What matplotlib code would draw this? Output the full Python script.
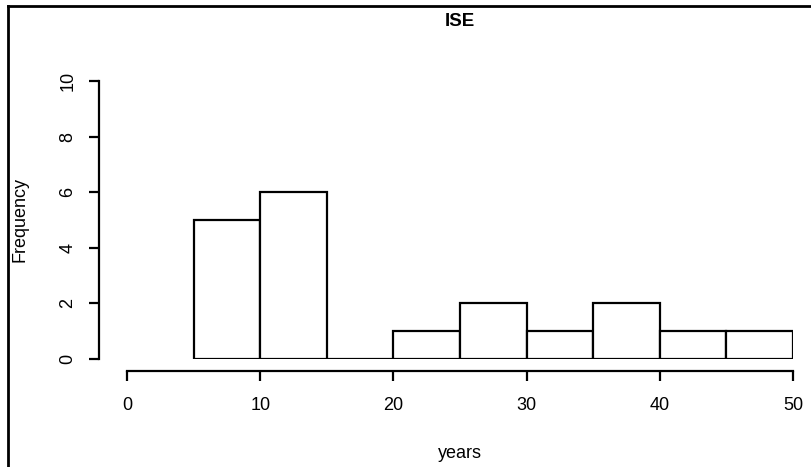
import matplotlib.pyplot as plt
from matplotlib.lines import Line2D

plt.rcParams['font.family'] = ['Liberation Sans', 'DejaVu Sans']

bin_edges = [5, 10, 15, 20, 25, 30, 35, 40, 45, 50]
counts = [5, 6, 0, 1, 2, 1, 2, 1, 1]
x_ticks = [0, 10, 20, 30, 40, 50]
y_ticks = [0, 2, 4, 6, 8, 10]

W, H = 812, 467
fig = plt.figure(figsize=(W / 100, H / 100), dpi=100)
ax = fig.add_axes([127 / W, 1 - 359 / H, (793 - 127) / W, (359 - 81) / H])

lefts = bin_edges[:-1]
widths = [b - a for a, b in zip(bin_edges[:-1], bin_edges[1:])]
ax.bar(lefts, counts, width=widths, align='edge', facecolor='white',
       edgecolor='black', linewidth=1.6)

ax.set_xlim(0, 50)
ax.set_ylim(0, 10)
for s in ['top', 'right']:
    ax.spines[s].set_visible(False)
ax.spines['left'].set_position(('outward', 20))
ax.spines['bottom'].set_position(('outward', 8.6))
ax.spines['left'].set_bounds(0, 10)
ax.spines['bottom'].set_bounds(0, 50)
ax.spines['left'].set_linewidth(1.6)
ax.spines['bottom'].set_linewidth(1.6)

ax.set_xticks(x_ticks)
ax.set_yticks(y_ticks)
ax.tick_params(axis='both', length=7.5, width=1.6, labelsize=13)
ax.tick_params(axis='x', pad=11)
ax.tick_params(axis='y', pad=9)
for lbl in ax.get_yticklabels():
    lbl.set_rotation(90)
    lbl.set_va('center')

cx = (127 + 793) / 2 / W
cy = 1 - (81 + 359) / 2 / H
fig.text(cx, 1 - 22 / H, 'ISE', ha='center', va='center',
         fontweight='bold', fontsize=13.5)
fig.text(cx, 1 - 453 / H, 'years', ha='center', va='center', fontsize=13)
fig.text(20 / W, cy, 'Frequency', ha='center', va='center',
         rotation=90, fontsize=13)

# partial frame around the figure (top and left edges)
fig.add_artist(Line2D([8 / W, 1], [1 - 6 / H, 1 - 6 / H],
                      transform=fig.transFigure, color='black', linewidth=2))
fig.add_artist(Line2D([8 / W, 8 / W], [0, 1 - 6 / H],
                      transform=fig.transFigure, color='black', linewidth=2))

fig.savefig('out.png', dpi=100)
